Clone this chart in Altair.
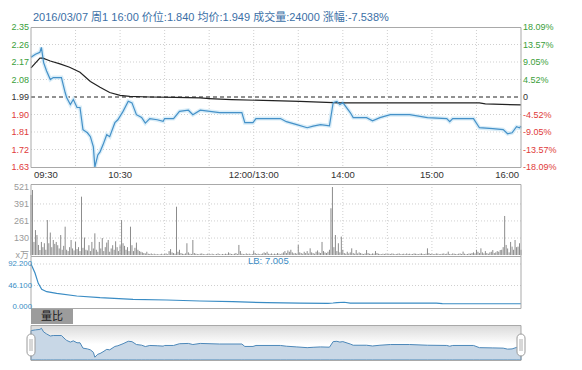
import altair as alt
import pandas as pd

# ---------------- data ----------------
title_text = "2016/03/07 周1 16:00 价位:1.840 均价:1.949 成交量:24000 涨幅:-7.538%"
prev_close = 1.99
price_ticks = [2.35, 2.26, 2.17, 2.08, 1.99, 1.90, 1.81, 1.72, 1.63]
price_tick_labels = ["2.35", "2.26", "2.17", "2.08", "1.99", "1.90", "1.81", "1.72", "1.63"]
pct_tick_labels = ["18.09%", "13.57%", "9.05%", "4.52%", "0", "-4.52%", "-9.05%", "-13.57%", "-18.09%"]
time_minutes = [0, 60, 150, 210, 270, 330]
time_labels = ["09:30", "10:30", "12:00/13:00", "14:00", "15:00", "16:00"]
grid_minutes = [30, 60, 90, 120, 150, 180, 210, 240, 270, 300]

price_min = [0, 3, 6, 7, 8.5, 10.5, 13, 15, 20.5, 23,
             24, 26.5, 28.5, 31, 33, 35, 38, 40, 42, 43,
             45, 46.5, 48.5, 51, 53, 56.5, 58.5, 62, 65.5, 68,
             71, 74.5, 77, 80, 85, 89, 90, 96, 100, 106,
             109, 114, 127, 142, 144, 149.5, 151.5, 168, 172, 179,
             186, 190, 195, 201, 203.5, 206, 208, 210, 215, 217,
             226, 230, 235, 242, 255, 267, 280, 282, 284, 298,
             302, 311, 318, 321, 324, 327, 329, 330]
price_val = [2.195, 2.21, 2.22, 2.245, 2.167, 2.124, 2.08, 2.09, 2.09, 2.013,
             1.987, 1.951, 1.977, 1.936, 1.936, 1.822, 1.806, 1.786, 1.734, 1.63,
             1.692, 1.708, 1.744, 1.796, 1.786, 1.858, 1.873, 1.916, 1.968, 1.96,
             1.899, 1.885, 1.856, 1.879, 1.873, 1.865, 1.879, 1.879, 1.916, 1.922,
             1.899, 1.922, 1.91, 1.91, 1.858, 1.858, 1.879, 1.879, 1.863, 1.848,
             1.832, 1.84, 1.848, 1.842, 1.961, 1.967, 1.951, 1.961, 1.91, 1.884,
             1.884, 1.868, 1.884, 1.899, 1.899, 1.884, 1.879, 1.863, 1.879, 1.879,
             1.832, 1.827, 1.822, 1.801, 1.806, 1.837, 1.832, 1.84]

avg_min = [0, 6, 8, 13, 19.5, 26, 33, 40, 46.5, 53, 60, 66.5, 80, 97, 114, 120, 135, 181, 208, 302, 306, 330]
avg_val = [2.14, 2.19, 2.19, 2.175, 2.16, 2.143, 2.117, 2.07, 2.04, 2.013, 1.998, 1.993,
           1.99, 1.988, 1.985, 1.982, 1.977, 1.967, 1.96, 1.96, 1.955, 1.949]

volume = [460, 498, 100, 191, 153, 77, 38, 100, 60, 90,
          40, 268, 90, 172, 60, 115, 85, 100, 75, 50,
          153, 40, 70, 217, 40, 30, 60, 115, 50, 35,
          100, 45, 60, 30, 447, 55, 134, 40, 35, 75,
          30, 100, 50, 166, 40, 25, 100, 50, 130, 30,
          60, 95, 115, 25, 50, 75, 40, 105, 60, 30,
          75, 268, 90, 70, 40, 60, 30, 217, 75, 30,
          55, 95, 40, 30, 25, 20, 15, 12, 25, 10,
          8, 12, 6, 10, 5, 8, 4, 6, 10, 5,
          8, 12, 6, 30, 45, 20, 15, 10, 370, 25,
          40, 15, 10, 8, 12, 90, 20, 10, 8, 115,
          15, 10, 8, 6, 10, 12, 8, 5, 6, 10,
          8, 5, 10, 6, 4, 8, 12, 6, 5, 8,
          6, 10, 8, 20, 12, 8, 6, 10, 15, 8,
          77, 30, 10, 8, 6, 12, 8, 10, 5, 8,
          30, 15, 8, 10, 6, 8, 12, 20, 15, 25,
          10, 8, 12, 6, 10, 8, 15, 10, 6, 12,
          20, 30, 15, 35, 25, 40, 20, 12, 15, 10,
          77, 20, 15, 10, 25, 15, 30, 12, 51, 20,
          15, 10, 25, 35, 20, 15, 100, 30, 20, 15,
          25, 40, 358, 521, 60, 153, 30, 90, 20, 141,
          40, 15, 10, 25, 12, 20, 51, 15, 10, 38,
          12, 20, 15, 10, 8, 12, 38, 15, 10, 8,
          12, 10, 30, 15, 10, 8, 6, 10, 8, 12,
          6, 10, 8, 12, 10, 6, 8, 10, 12, 6,
          8, 10, 6, 12, 8, 10, 6, 8, 12, 10,
          8, 6, 10, 12, 8, 6, 10, 51, 15, 8,
          10, 6, 8, 12, 10, 6, 8, 10, 12, 8,
          10, 26, 8, 6, 12, 10, 8, 6, 10, 12,
          8, 26, 10, 6, 8, 12, 10, 15, 20, 12,
          40, 25, 15, 51, 20, 12, 30, 15, 10, 20,
          25, 38, 15, 20, 30, 25, 38, 40, 60, 299,
          77, 50, 20, 100, 64, 40, 115, 60, 64, 90, 40]
vol_ticks = [521, 391, 261, 130, 0]
vol_tick_labels = ["521", "391", "261", "130", "x万"]

lb_min = [0, 2.7, 4.9, 7.2, 10.6, 17.3, 30.8, 46.5, 68.7, 91.4, 113.8, 136, 159, 181,
          200, 203.4, 206, 211, 215, 273, 277, 330]
lb_val = [92.2, 72.9, 50.8, 37.9, 32.8, 29.4, 23.6, 19.9, 16.5, 15.0, 12.9, 11.4, 9.2, 8.2,
          7.9, 8.6, 9.5, 10.2, 8.4, 8.2, 7.1, 7.005]
lb_ticks = [92.2, 46.1, 0.0]
lb_tick_labels = ["92.200", "46.100", "0.000"]
lb_last_text = "LB: 7.005"
nav_tab_text = "量比"

# ---------------- layout / style ----------------
W, H = 566, 354
X0, X1 = 23, 513
P_TOP, P_BOT = 19, 159
V_TOP, V_BOT = 176, 248
L_TOP, L_BOT = 248, 300
N_TOP, N_BOT = 317, 352
FONT = "Liberation Sans, Noto Sans CJK SC, sans-serif"
GREEN, RED, DARK = "#3a9e3a", "#e03a3a", "#333333"
BLUE = "#3a8cc4"
FRAME = "#a9a9a9"
GRID = "#cfcfcf"

xs = alt.Scale(domain=[0, 330], range=[X0, X1], nice=False, zero=False)
ps = alt.Scale(domain=[1.63, 2.35], range=[P_BOT, P_TOP], nice=False, zero=False)
vs = alt.Scale(domain=[0, 521], range=[247, 179], nice=False, zero=False)
ls = alt.Scale(domain=[0, 92.2], range=[299, 256], nice=False, zero=False)
ns = alt.Scale(domain=[1.57, 2.25], range=[N_BOT, N_TOP + 3], nice=False, zero=False)

one = pd.DataFrame({"a": [0]})


def xf(field):
    return alt.X(field, type="quantitative", scale=xs, axis=None)


def xd(v):
    return alt.X(datum=v, scale=xs, axis=None)


def frame(top, bottom):
    return alt.Chart(one).mark_rect(fillOpacity=0, stroke=FRAME, strokeWidth=1).encode(
        x=xd(0), x2=alt.X2(datum=330), y=alt.value(top), y2=alt.value(bottom))


def hgrid(values, scale):
    df = pd.DataFrame({"v": values})
    return alt.Chart(df).mark_rule(color=GRID, strokeDash=[1, 2], strokeWidth=1).encode(
        y=alt.Y("v:Q", scale=scale, axis=None), x=xd(0), x2=alt.X2(datum=330))


def vgrid(top, bottom):
    df = pd.DataFrame({"m": grid_minutes})
    return alt.Chart(df).mark_rule(color=GRID, strokeDash=[1, 2], strokeWidth=1).encode(
        x=xf("m:Q"), y=alt.value(top), y2=alt.value(bottom))


def col(v):
    if abs(v - prev_close) < 1e-9:
        return DARK
    return GREEN if v > prev_close else RED


layers = []

# title
layers.append(alt.Chart(one).mark_text(align="left", baseline="middle", fontSize=11, font=FONT,
                                       color="#3b6fa6").encode(
    x=alt.value(25), y=alt.value(10), text=alt.value(title_text)))

# ---- price panel ----
layers.append(hgrid([t for t in price_ticks if t not in (2.35, 1.63, prev_close)], ps))
layers.append(vgrid(P_TOP, P_BOT))
layers.append(alt.Chart(one).mark_rule(color="#222222", strokeDash=[4, 3], strokeWidth=1).encode(
    y=alt.Y(datum=prev_close, scale=ps, axis=None), x=xd(0), x2=alt.X2(datum=330)))

price_df = pd.DataFrame({"m": price_min, "p": price_val})
layers.append(alt.Chart(price_df).mark_line(color="#d9edf8", strokeWidth=4).encode(
    x=xf("m:Q"), y=alt.Y("p:Q", scale=ps, axis=None)))
avg_df = pd.DataFrame({"m": avg_min, "p": avg_val})
layers.append(alt.Chart(avg_df).mark_line(color="#222222", strokeWidth=1.2).encode(
    x=xf("m:Q"), y=alt.Y("p:Q", scale=ps, axis=None)))
layers.append(alt.Chart(price_df).mark_line(color="#4591c8", strokeWidth=1.2).encode(
    x=xf("m:Q"), y=alt.Y("p:Q", scale=ps, axis=None)))
layers.append(frame(P_TOP + 0.5, P_BOT + 0.5))

plab = pd.DataFrame({"v": price_ticks, "t": price_tick_labels, "r": pct_tick_labels,
                     "c": [col(v) for v in price_ticks]})
layers.append(alt.Chart(plab).mark_text(align="right", baseline="middle", fontSize=9, font=FONT).encode(
    x=alt.value(21), y=alt.Y("v:Q", scale=ps, axis=None), text="t:N",
    color=alt.Color("c:N", scale=None)))
layers.append(alt.Chart(plab).mark_text(align="left", baseline="middle", fontSize=9, font=FONT).encode(
    x=alt.value(515), y=alt.Y("v:Q", scale=ps, axis=None), text="r:N",
    color=alt.Color("c:N", scale=None)))

# time labels
tdf = pd.DataFrame({"m": time_minutes, "t": time_labels})
layers.append(alt.Chart(tdf.iloc[[0]]).mark_text(align="left", baseline="middle", fontSize=9.5, font=FONT,
                                                 color=DARK, dx=3).encode(
    x=xf("m:Q"), y=alt.value(167), text="t:N"))
layers.append(alt.Chart(tdf.iloc[1:5]).mark_text(align="center", baseline="middle", fontSize=9.5, font=FONT,
                                                color=DARK).encode(
    x=xf("m:Q"), y=alt.value(167), text="t:N"))
layers.append(alt.Chart(tdf.iloc[[5]]).mark_text(align="right", baseline="middle", fontSize=9.5, font=FONT,
                                                color=DARK, dx=-2).encode(
    x=xf("m:Q"), y=alt.value(167), text="t:N"))

# ---- volume panel ----
layers.append(hgrid([391, 261, 130], vs))
layers.append(vgrid(V_TOP, V_BOT))
vdf = pd.DataFrame({"m": list(range(len(volume))), "v": volume})
layers.append(alt.Chart(vdf).mark_rule(color="#8c8c8c", strokeWidth=1).encode(
    x=xf("m:Q"), y=alt.Y("v:Q", scale=vs, axis=None), y2=alt.Y2(datum=0)))
layers.append(frame(V_TOP + 0.5, V_BOT + 0.5))
vlab = pd.DataFrame({"v": vol_ticks, "t": vol_tick_labels})
layers.append(alt.Chart(vlab).mark_text(align="right", baseline="middle", fontSize=9, font=FONT,
                                        color="#9a9a9a").encode(
    x=alt.value(21), y=alt.Y("v:Q", scale=vs, axis=None), text="t:N"))

# ---- LB panel ----
layers.append(hgrid([92.2, 46.1], ls))
ldf = pd.DataFrame({"m": lb_min, "v": lb_val})
layers.append(alt.Chart(ldf).mark_line(color=BLUE, strokeWidth=1.2).encode(
    x=xf("m:Q"), y=alt.Y("v:Q", scale=ls, axis=None)))
layers.append(frame(L_TOP + 0.5, L_BOT + 0.5))
llab = pd.DataFrame({"v": lb_ticks, "t": lb_tick_labels})
layers.append(alt.Chart(llab).mark_text(align="right", baseline="middle", fontSize=7.8, font=FONT,
                                        color=BLUE).encode(
    x=alt.value(24), y=alt.Y("v:Q", scale=ls, axis=None), text="t:N"))
layers.append(alt.Chart(one).mark_text(align="left", baseline="middle", fontSize=9.5, font=FONT,
                                       color=BLUE).encode(
    x=alt.value(240), y=alt.value(253), text=alt.value(lb_last_text)))

# ---- navigator ----
layers.append(alt.Chart(one).mark_rect(fill="#9c9c9c").encode(
    x=alt.value(X0), x2=alt.value(65), y=alt.value(301), y2=alt.value(316)))
layers.append(alt.Chart(one).mark_text(align="center", baseline="middle", fontSize=11, font=FONT,
                                       color="#1a1a1a").encode(
    x=alt.value(44), y=alt.value(308.5), text=alt.value(nav_tab_text)))
grad = alt.Gradient(gradient="linear",
                    stops=[alt.GradientStop(color="#d9d9d9", offset=0),
                           alt.GradientStop(color="#ffffff", offset=0.55),
                           alt.GradientStop(color="#ffffff", offset=1)],
                    x1=0, x2=0, y1=0, y2=1)
layers.append(alt.Chart(one).mark_rect(fill=grad).encode(
    x=xd(0), x2=alt.X2(datum=330), y=alt.value(N_TOP), y2=alt.value(N_BOT)))
layers.append(alt.Chart(price_df).mark_area(fill="#c8d7e6", fillOpacity=1, stroke="#4d88b9",
                                            strokeWidth=1).encode(
    x=xf("m:Q"), y=alt.Y("p:Q", scale=ns, axis=None), y2=alt.Y2(datum=1.57)))
layers.append(frame(N_TOP + 0.5, N_BOT + 0.5))
for hx in (19, 509):
    layers.append(alt.Chart(one).mark_rect(fill="#ffffff", stroke="#9a9a9a", strokeWidth=1,
                                           cornerRadius=4).encode(
        x=alt.value(hx), x2=alt.value(hx + 8), y=alt.value(326), y2=alt.value(348)))
    layers.append(alt.Chart(one).mark_rule(color="#b0b0b0", strokeWidth=1).encode(
        x=alt.value(hx + 3), y=alt.value(331), y2=alt.value(343)))
    layers.append(alt.Chart(one).mark_rule(color="#b0b0b0", strokeWidth=1).encode(
        x=alt.value(hx + 5), y=alt.value(331), y2=alt.value(343)))

chart = alt.layer(*layers).resolve_scale(y="independent").properties(
    width=W, height=H, padding=0, autosize=alt.AutoSizeParams(type="none"),
    background="#ffffff"
).configure_view(strokeWidth=0)

chart.save("out.html", embed_options={"renderer": "svg", "actions": False})
